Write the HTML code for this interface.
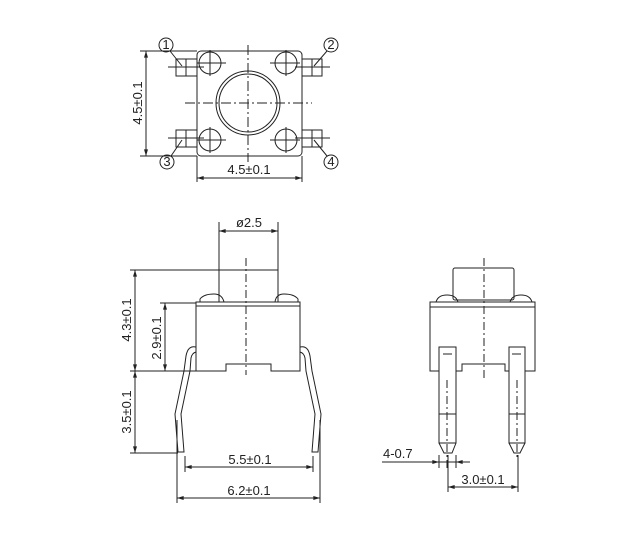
<!DOCTYPE html>
<html><head><meta charset="utf-8"><style>
html,body{margin:0;padding:0;background:#fff;}
svg{display:block;}
text{font-family:"Liberation Sans",sans-serif;font-size:13px;fill:#222;}
</style></head><body>
<svg width="621" height="551" viewBox="0 0 621 551" xmlns="http://www.w3.org/2000/svg">
<defs>
<marker id="a" viewBox="0 0 10 6" refX="10" refY="3" markerWidth="7" markerHeight="4" orient="auto-start-reverse"><path d="M0,0L10,3L0,6z" fill="#222"/></marker>
</defs>
<g fill="none" stroke="#222" stroke-width="1">
<!-- TOP VIEW -->
<rect x="197" y="51" width="105" height="105" rx="4"/>
<circle cx="248" cy="103" r="32"/>
<circle cx="248" cy="103" r="29"/>
<circle cx="210" cy="63" r="11"/><circle cx="286" cy="63" r="11"/>
<circle cx="210" cy="140" r="11"/><circle cx="286" cy="140" r="11"/>
<g stroke-dasharray="10,3,2,3">
<line x1="248" y1="45" x2="248" y2="162"/>
<line x1="185" y1="103" x2="312" y2="103"/>
</g>
<path d="M197,63H226M210,50V76M270,63H300M286,50V76M197,140H226M210,127V153M270,140H300M286,127V153"/>
<rect x="176" y="59" width="21" height="17"/><line x1="186" y1="59" x2="186" y2="76"/>
<rect x="302" y="59" width="20" height="17"/><line x1="312" y1="59" x2="312" y2="76"/>
<rect x="176" y="130" width="21" height="17"/><line x1="186" y1="130" x2="186" y2="147"/>
<rect x="302" y="130" width="20" height="17"/><line x1="312" y1="130" x2="312" y2="147"/>
<path d="M168,67H204M295,67H330M168,138H204M295,138H330"/>
<circle cx="166" cy="45" r="7"/><circle cx="331" cy="45" r="7"/>
<circle cx="167" cy="162" r="7"/><circle cx="331" cy="162" r="7"/>
<path d="M170,51L182,66M327,51L314,66M171,156L182,140M327,156L314,140"/>
<path d="M140,51H197M140,156H197"/>
<line x1="146" y1="51" x2="146" y2="156" marker-start="url(#a)" marker-end="url(#a)"/>
<path d="M197,156V182M302,156V182"/>
<line x1="197" y1="178" x2="302" y2="178" marker-start="url(#a)" marker-end="url(#a)"/>

<!-- FRONT VIEW -->
<path d="M219,222V270M278,222V270"/>
<line x1="219" y1="231" x2="278" y2="231" marker-start="url(#a)" marker-end="url(#a)"/>
<rect x="219" y="270" width="59" height="32"/>
<path d="M200,302V299Q204,294 214,294Q222,294 224,302M275,302Q276,294 284,294Q294,294 298,299V302"/>
<path d="M196,302H300V371H271V364H226V371H196Z"/>
<line x1="196" y1="306" x2="300" y2="306"/>
<line x1="246" y1="258" x2="246" y2="375" stroke-dasharray="8,3,2,3"/>
<path d="M196,347Q188,345 186,356L184,371L175,414L178,452H184L181,414L190,371L191,358Q192,353 196,352"/>
<path d="M300,347Q308,345 310,356L312,371L321,414L318,452H312L315,414L306,371L305,358Q304,353 300,352"/>
<path d="M130,270H219M160,303H196M130,371H196M130,453H178"/>
<line x1="135" y1="270" x2="135" y2="371" marker-start="url(#a)" marker-end="url(#a)"/>
<line x1="165" y1="303" x2="165" y2="371" marker-start="url(#a)" marker-end="url(#a)"/>
<line x1="135" y1="371" x2="135" y2="453" marker-start="url(#a)" marker-end="url(#a)"/>
<path d="M185,456V472M313,456V472M177,420V503M320,420V503"/>
<line x1="185" y1="467" x2="313" y2="467" marker-start="url(#a)" marker-end="url(#a)"/>
<line x1="177" y1="498" x2="320" y2="498" marker-start="url(#a)" marker-end="url(#a)"/>

<!-- SIDE VIEW -->
<rect x="453" y="268" width="61" height="32" rx="2"/>
<path d="M436,302Q438,295 447,295Q456,295 458,302M510,302Q512,295 521,295Q530,295 532,302"/>
<path d="M430,302H535V371H505V364H462V371H430Z"/>
<line x1="430" y1="307" x2="535" y2="307"/>
<line x1="484" y1="258" x2="484" y2="378" stroke-dasharray="8,3,2,3"/>
<!-- pins -->
<rect x="439" y="347" width="17" height="96" fill="#fff"/>
<line x1="443" y1="354" x2="452" y2="354"/>
<line x1="439" y1="414" x2="456" y2="414"/>
<path d="M439,443L444,453H452L456,443"/>
<rect x="509" y="347" width="16" height="96" fill="#fff"/>
<line x1="512" y1="354" x2="521" y2="354"/>
<line x1="509" y1="414" x2="525" y2="414"/>
<path d="M509,443L514,453H520L525,443"/>
<line x1="447" y1="380" x2="447" y2="470" stroke-dasharray="8,3,2,3"/>
<line x1="517" y1="380" x2="517" y2="460" stroke-dasharray="8,3,2,3"/>
<line x1="382" y1="462" x2="470" y2="462"/>
<line x1="426" y1="462" x2="439" y2="462" marker-end="url(#a)"/>
<line x1="470" y1="462" x2="456" y2="462" marker-end="url(#a)"/>
<path d="M439,455V468M456,455V468M448,455V492M518,455V492"/>
<line x1="448" y1="487" x2="518" y2="487" marker-start="url(#a)" marker-end="url(#a)"/>
</g>
<g>
<text x="166" y="49" text-anchor="middle" font-size="10">1</text>
<text x="331" y="49" text-anchor="middle" font-size="10">2</text>
<text x="167" y="166" text-anchor="middle" font-size="10">3</text>
<text x="331" y="166" text-anchor="middle" font-size="10">4</text>
<text transform="translate(142,103) rotate(-90)" text-anchor="middle">4.5±0.1</text>
<text x="249" y="174" text-anchor="middle">4.5±0.1</text>
<text x="249" y="227" text-anchor="middle">ø2.5</text>
<text transform="translate(131,320) rotate(-90)" text-anchor="middle">4.3±0.1</text>
<text transform="translate(161,338) rotate(-90)" text-anchor="middle">2.9±0.1</text>
<text transform="translate(131,412) rotate(-90)" text-anchor="middle">3.5±0.1</text>
<text x="250" y="464" text-anchor="middle">5.5±0.1</text>
<text x="249" y="495" text-anchor="middle">6.2±0.1</text>
<text x="383" y="458">4-0.7</text>
<text x="483" y="484" text-anchor="middle">3.0±0.1</text>
</g>
</svg>
</body></html>
